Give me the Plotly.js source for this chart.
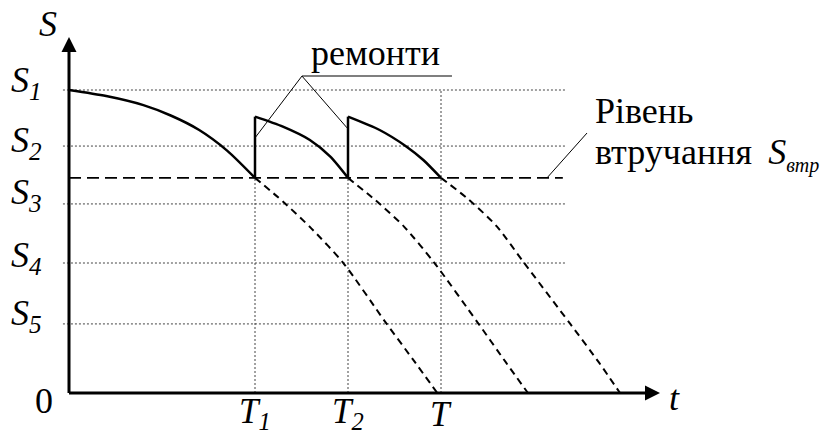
<!DOCTYPE html>
<html><head><meta charset="utf-8">
<script src="https://cdn.plot.ly/plotly-3.0.1.min.js"></script>
<style>html,body{margin:0;padding:0;background:#fff}</style>
</head><body><div id="chart" style="width:826px;height:434px"></div>
<script>
// ---- data (abstract units: t = time, S = state) ----
const levelNames = ['1', '2', '3', '4', '5'];
const levelValues = [10.0, 8.15, 6.24, 4.29, 2.28];
const thresholdValue = 7.1;
const restoredValue = 9.12;
const timeNames = ['1', '2', ''];
const timeValues = [2, 3, 4];           // T1, T2, T

const seg1T = [0, 0.4, 0.8, 1.1, 1.4, 1.7, 2.0];
const seg1S = [10.0, 9.8, 9.5, 9.15, 8.68, 8.0, 7.1];
const seg2T = [2.0, 2.30, 2.59, 2.81, 3.0];
const seg2S = [9.12, 8.79, 8.35, 7.80, 7.1];
const seg3T = [3.0, 3.34, 3.63, 3.81, 4.0];
const seg3S = [9.12, 8.68, 8.13, 7.69, 7.1];

const fall1T = [2.0, 2.3, 2.6, 2.95, 3.4, 3.7, 3.96];
const fall1S = [7.1, 6.32, 5.45, 4.29, 2.35, 1.1, 0];
const fall2T = [3.0, 3.3, 3.6, 3.93, 4.4, 4.7, 4.935];
const fall2S = [7.1, 6.35, 5.5, 4.29, 2.3, 1.0, 0];
const fall3T = [4.0, 4.3, 4.6, 4.88, 5.39, 5.7, 5.925];
const fall3S = [7.1, 6.38, 5.5, 4.35, 2.28, 1.0, 0];

const axisNameY = 'S';
const axisNameX = 't';
const zeroLabel = '0';
const repairText = 'ремонти';
const levelText1 = 'Рівень';
const levelText2 = 'втручання';
const levelSub = 'втр';

// ---- geometry / style ----
const FONT = 'Liberation Serif';
const gridStart = -0.065, gridEnd = 5.35, thrEnd = 5.31;
const xTip = 6.355, yTip = 11.75;
const traces = [];
function line(x, y, color, width, dash, shape) {
  traces.push({x: x, y: y, mode: 'lines', hoverinfo: 'skip', showlegend: false,
    line: {color: color, width: width, dash: dash || 'solid', shape: shape || 'linear', smoothing: 0.7}});
}
// dotted grid
levelValues.forEach(v => line([gridStart, gridEnd], [v, v], '#444', 1, '2px,2px'));
line([timeValues[0], timeValues[0]], [0, thresholdValue], '#444', 1, '2px,2px');
line([timeValues[1], timeValues[1]], [0, thresholdValue], '#444', 1, '2px,2px');
line([timeValues[2], timeValues[2]], [0, levelValues[0]], '#444', 1, '2px,2px');
// threshold
line([0, thrEnd], [thresholdValue, thresholdValue], '#000', 1.6, '12px,6px');
// dashed continuations
line(fall1T, fall1S, '#000', 2, '7px,5px', 'spline');
line(fall2T, fall2S, '#000', 2, '7px,5px', 'spline');
line(fall3T, fall3S, '#000', 2, '7px,5px', 'spline');
// solid segments
line(seg1T, seg1S, '#000', 2.5, 'solid', 'spline');
line(seg2T, seg2S, '#000', 2.5, 'solid', 'spline');
line(seg3T, seg3S, '#000', 2.5, 'solid', 'spline');
line([timeValues[0], timeValues[0]], [thresholdValue, restoredValue], '#000', 2.5);
line([timeValues[1], timeValues[1]], [thresholdValue, restoredValue], '#000', 2.5);
// leader lines
const ulY = 10.46, ulX0 = 2.505, ulX1 = 4.118;
line([ulX0, ulX1], [ulY, ulY], '#555', 1.5);
line([timeValues[0], ulX0, timeValues[1] - 0.01], [8.42, ulY, 8.75], '#000', 1);
line([5.14, 5.57], [thresholdValue, 8.58], '#000', 1);

const ann = [];
function txt(x, y, text, size, opts) {
  ann.push(Object.assign({x: x, y: y, xref: 'x', yref: 'y', text: text, showarrow: false,
    font: {family: FONT, size: size, color: '#000'}, xanchor: 'center', yanchor: 'middle'}, opts || {}));
}
const yShifts = [7.85, 3.85, 9.85, 5.25, 8.85];
levelValues.forEach((v, i) => txt(-0.27, v, '<i>' + axisNameY + '<sub>' + levelNames[i] + '</sub></i>', 36, {xanchor: 'right', yshift: yShifts[i]}));
timeValues.forEach((v, i) => txt(v, 0, '<i>T' + (timeNames[i] ? '<sub>' + timeNames[i] + '</sub>' : '') + '</i>', 35, {yshift: timeNames[i] ? -20.5 : -21.5}));
txt(-0.269, 0, zeroLabel, 36, {yshift: -7.5});
txt(6.516, 0, '<i>' + axisNameX + '</i>', 36, {yshift: -4.85});
txt(-0.226, yTip, '<i>' + axisNameY + '</i>', 36, {yshift: 12.5});
txt(3.301, 11.226, repairText, 36);
txt(5.634, 9.32, levelText1, 36, {xanchor: 'left'});
txt(5.634, 7.883, levelText2 + ' \u2009<i>' + axisNameY + '<sub><span style="font-size:20px">' + levelSub + '</span></sub></i>', 36, {xanchor: 'left'});
// axes with arrows
ann.push({x: xTip, y: 0, ax: -0.016, ay: 0, xref: 'x', yref: 'y', axref: 'x', ayref: 'y', text: '',
  showarrow: true, arrowhead: 2, arrowsize: 1, arrowwidth: 3, arrowcolor: '#000', standoff: 0});
ann.push({x: 0, y: yTip, ax: 0, ay: -0.05, xref: 'x', yref: 'y', axref: 'x', ayref: 'y', text: '',
  showarrow: true, arrowhead: 2, arrowsize: 1, arrowwidth: 3, arrowcolor: '#000', standoff: 0});

const layout = {
  width: 826, height: 434, margin: {l: 0, r: 0, t: 0, b: 0},
  paper_bgcolor: '#fff', plot_bgcolor: '#fff', showlegend: false,
  font: {family: FONT},
  xaxis: {range: [-69 / 93, (826 - 69) / 93], visible: false, fixedrange: true},
  yaxis: {range: [(393 - 434) / 30.3, 393 / 30.3], visible: false, fixedrange: true},
  annotations: ann
};
Plotly.newPlot('chart', traces, layout, {displayModeBar: false, staticPlot: true});
</script></body></html>
